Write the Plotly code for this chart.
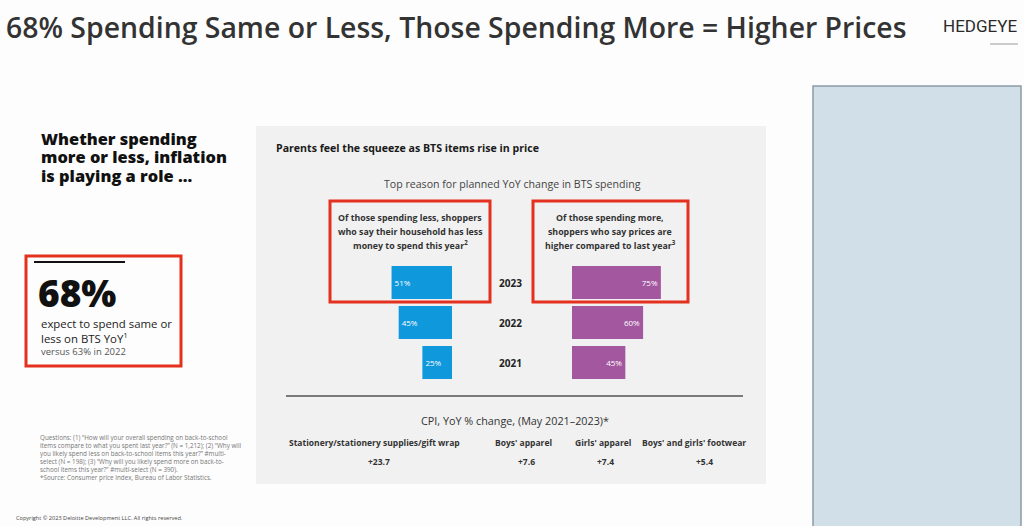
import plotly.graph_objects as go

# ---------------- data ----------------
years = [2021, 2022, 2023]
less_money_pct = [25, 45, 51]       # spending less: household has less money
prices_higher_pct = [45, 60, 75]    # spending more: prices are higher
cpi_categories = ["Stationery/stationery supplies/gift wrap", "Boys' apparel",
                  "Girls' apparel", "Boys' and girls' footwear"]
cpi_values = [23.7, 7.6, 7.4, 5.4]

W, H = 1024, 526
FONT = "Open Sans"
BLUE = "#0f98dc"
PURPLE = "#a2579f"
RED = "#e4301f"


def px(x):
    return x / W


def py(y):
    return 1 - y / H


fig = go.Figure()

fig.add_trace(go.Bar(
    y=years, x=less_money_pct, orientation="h", xaxis="x", yaxis="y",
    marker=dict(color=BLUE, line=dict(width=0)),
    text=[f"{v}%" for v in less_money_pct], textposition="inside",
    insidetextanchor="end", textfont=dict(color="white", size=8, family=FONT),
    hoverinfo="skip", showlegend=False,
))
fig.add_trace(go.Bar(
    y=years, x=prices_higher_pct, orientation="h", xaxis="x2", yaxis="y",
    marker=dict(color=PURPLE, line=dict(width=0)),
    text=[f"{v}%" for v in prices_higher_pct], textposition="inside",
    insidetextanchor="end", textfont=dict(color="white", size=8, family=FONT),
    hoverinfo="skip", showlegend=False,
))

shapes = []
# grey panel
shapes.append(dict(type="rect", xref="paper", yref="paper", layer="below",
                   x0=px(256), x1=px(766), y0=py(484), y1=py(126),
                   fillcolor="#f1f1f1", line=dict(width=0)))
# right light-blue panel
shapes.append(dict(type="rect", xref="paper", yref="paper", layer="below",
                   x0=px(813), x1=px(1021), y0=py(530), y1=py(86),
                   fillcolor="#d0dfe8", line=dict(color="#8c9ba6", width=1.5)))
# red boxes
for x0, y0, x1, y1 in [(330, 201, 490, 302), (533, 201, 688, 302), (26, 256, 181, 366)]:
    shapes.append(dict(type="rect", xref="paper", yref="paper", layer="above",
                       x0=px(x0), x1=px(x1), y0=py(y1), y1=py(y0),
                       fillcolor="rgba(0,0,0,0)", line=dict(color=RED, width=3)))
# black rule in 68% box
shapes.append(dict(type="line", xref="paper", yref="paper",
                   x0=px(34), x1=px(125), y0=py(262), y1=py(262),
                   line=dict(color="#111111", width=2)))
# separator line in panel
shapes.append(dict(type="line", xref="paper", yref="paper",
                   x0=px(286), x1=px(743), y0=py(396), y1=py(396),
                   line=dict(color="#7a7a7a", width=2)))
# HEDGEYE underline
shapes.append(dict(type="line", xref="paper", yref="paper",
                   x0=px(990), x1=px(1018), y0=py(44), y1=py(44),
                   line=dict(color="#9a9a9a", width=1)))

ann = []


def text(x, y, s, size, color="#222222", weight=400, xanchor="left", align="left",
         family=FONT):
    ann.append(dict(x=px(x), y=py(y), xref="paper", yref="paper", text=s,
                    showarrow=False, xanchor=xanchor, yanchor="middle", align=align,
                    font=dict(family=family, size=size, color=color, weight=weight)))


# main title
text(4, 27, "68% Spending Same or Less, Those Spending More = Higher Prices", 28.4,
     color="#333333", weight=600)
text(1019, 26, "HEDGEYE", 17, color="#2a2a2a", weight=400, xanchor="right",
     family="Roboto")

# left column
for i, line in enumerate(["Whether spending", "more or less, inflation", "is playing a role ..."]):
    text(39, 138 + i * 18.5, line, 16.4, color="#111111", weight=800)
text(36, 292, "68%", 37, color="#111111", weight=800)
text(39, 323, "expect to spend same or", 11.4, color="#222222")
text(39, 337, "less on BTS YoY<sup>1</sup>", 11.4, color="#222222")
text(39, 351, "versus 63% in 2022", 9.5, color="#555555")

foot = [
    "Questions: (1) \u201cHow will your overall spending on back-to-school",
    "items compare to what you spent last year?\u201d (N = 1,212); (2) \u201cWhy will",
    "you likely spend less on back-to-school items this year?\u201d #multi-",
    "select (N = 198); (3) \u201cWhy will you likely spend more on back-to-",
    "school items this year?\u201d #multi-select (N = 390).",
    "*Source: Consumer price Index, Bureau of Labor Statistics.",
]
for i, line in enumerate(foot):
    text(38, 437 + i * 8, line, 6.3, color="#777777")
text(14, 518, "Copyright \u00a9 2023 Deloitte Development LLC. All rights reserved.", 5.6,
     color="#444444")

# panel texts
text(274, 148, "Parents feel the squeeze as BTS items rise in price", 10.6,
     color="#1a1a1a", weight=700)
text(512, 184, "Top reason for planned YoY change in BTS spending", 10.6,
     color="#444444", xanchor="center", align="center")
left_lines = ["Of those spending less, shoppers", "who say their household has less",
              "money to spend this year<sup>2</sup>"]
right_lines = ["Of those spending more,", "shoppers who say prices are",
               "higher compared to last year<sup>3</sup>"]
for i, (l1, l2) in enumerate(zip(left_lines, right_lines)):
    text(410, 218 + i * 13.5, l1, 8.8, color="#333333", weight=700,
         xanchor="center", align="center")
    text(610, 218 + i * 13.5, l2, 8.8, color="#333333", weight=700,
         xanchor="center", align="center")

for yr in years:
    ann.append(dict(x=px(510), y=yr, xref="paper", yref="y", text=str(yr), showarrow=False,
                    xanchor="center", yanchor="middle",
                    font=dict(family=FONT, size=10, color="#222222", weight=700)))

text(515, 420, "CPI, YoY % change, (May 2021\u20132023)*", 10.8, color="#333333",
     xanchor="center", align="center")
cat_x = [374, 523, 603, 694]
val_x = [379, 526, 605, 704]
for xc, xv, cat, val in zip(cat_x, val_x, cpi_categories, cpi_values):
    text(xc, 442, cat, 8.5, color="#333333", weight=700, xanchor="center", align="center")
    text(xv, 461, f"+{val}", 8.5, color="#333333", weight=700, xanchor="center",
         align="center")

fig.update_layout(
    width=W, height=H,
    margin=dict(l=0, r=0, t=0, b=0),
    paper_bgcolor="#fdfdfd", plot_bgcolor="rgba(0,0,0,0)",
    font=dict(family=FONT),
    bargap=0.175,
    xaxis=dict(domain=[px(333.5), px(452)], range=[100, 0], visible=False,
               fixedrange=True),
    xaxis2=dict(domain=[px(572), px(690.5)], range=[0, 100], visible=False,
                fixedrange=True, anchor="y"),
    yaxis=dict(domain=[py(382.5), py(262.5)], type="linear",
               range=[2020.5, 2023.5], visible=False, fixedrange=True),
    shapes=shapes,
    annotations=ann,
)

fig.write_html("out.html", config={"displayModeBar": False},
               post_script="document.body.style.margin='0';"
                           "document.body.style.overflow='hidden';")
